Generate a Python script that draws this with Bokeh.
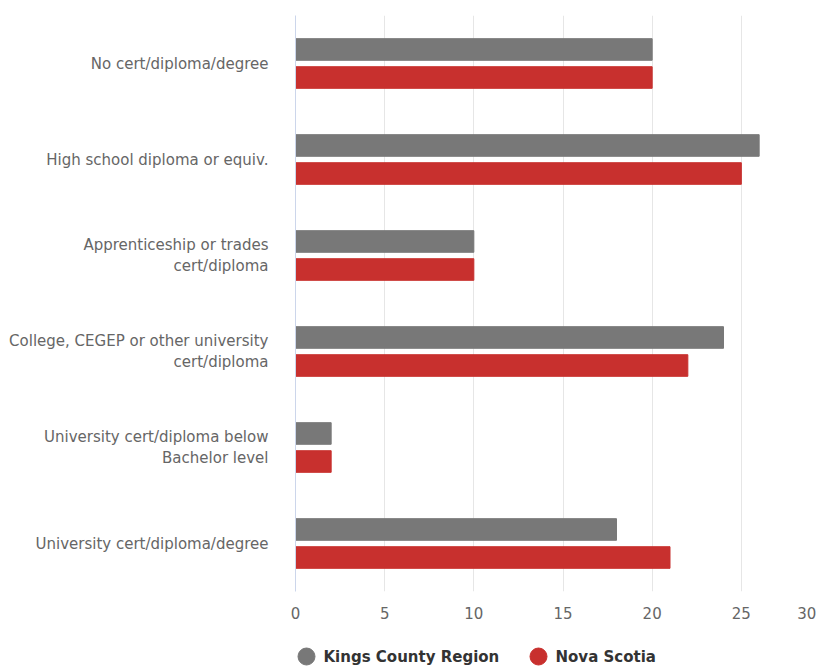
from bokeh.plotting import figure
from bokeh.models import FactorRange, ColumnDataSource
from bokeh.layouts import column
from bokeh.transform import dodge
from bokeh.core.properties import value
from bokeh.embed import file_html
from bokeh.resources import INLINE

categories = [
    "No cert/diploma/degree",
    "High school diploma or equiv.",
    "Apprenticeship or trades\ncert/diploma",
    "College, CEGEP or other university\ncert/diploma",
    "University cert/diploma below\nBachelor level",
    "University cert/diploma/degree",
]
kings = [20, 26, 10, 24, 2, 18]
nova = [20, 25, 10, 22, 2, 21]
series_names = ["Kings County Region", "Nova Scotia"]
ticks = [0, 5, 10, 15, 20, 25, 30]

GRAY = "#787878"
RED = "#c8302e"
series_colors = [GRAY, RED]

# legend layout (page pixels within the legend strip; must stay inside its frame)
legend_marker_x = [306, 538]
legend_label_x = [323, 555]
legend_row_y = 10

src = ColumnDataSource(dict(cat=categories, kings=kings, nova=nova))

p = figure(
    width=835, height=630,
    y_range=FactorRange(factors=list(reversed(categories)), range_padding=0),
    x_range=(0, 30),
    output_backend="svg", toolbar_location=None,
    min_border_left=295, min_border_right=5, min_border_top=15, min_border_bottom=39,
)
p.outline_line_color = None

p.hbar(y=dodge("cat", 0.146, range=p.y_range), right="kings", left=0, height=0.225,
       source=src, fill_color=GRAY, line_color=GRAY, line_width=1)
p.hbar(y=dodge("cat", -0.146, range=p.y_range), right="nova", left=0, height=0.225,
       source=src, fill_color=RED, line_color=RED, line_width=1)

# x axis
p.xaxis.ticker = ticks
p.xaxis.major_label_overrides = {30: "30\u00a0\u00a0\u00a0\u00a0"}
p.xaxis.axis_line_color = None
p.xaxis.major_tick_line_color = None
p.xaxis.minor_tick_line_color = None
p.xaxis.major_label_text_font = "DejaVu Sans"
p.xaxis.major_label_text_font_size = "15px"
p.xaxis.major_label_text_color = "#666666"
p.xaxis.major_label_standoff = 7

# y axis
p.yaxis.axis_line_color = "#ccd6eb"
p.yaxis.major_tick_line_color = None
p.yaxis.minor_tick_line_color = None
p.yaxis.major_label_text_font = "DejaVu Sans"
p.yaxis.major_label_text_font_size = "15px"
p.yaxis.major_label_text_color = "#666666"
p.yaxis.major_label_standoff = 21

p.xgrid.grid_line_color = "#e6e6e6"
p.ygrid.grid_line_color = None

# legend strip (its frame is aligned with the main frame by the column layout)
leg = figure(width=835, height=36, x_range=(295, 830), y_range=(0, 36),
             output_backend="svg", toolbar_location=None,
             min_border_left=295, min_border_right=5, min_border_top=0,
             min_border_bottom=0, outline_line_color=None)
leg.axis.visible = False
leg.grid.visible = False
lsrc = ColumnDataSource(dict(mx=legend_marker_x, tx=legend_label_x,
                             y=[legend_row_y] * len(series_names),
                             name=series_names, color=series_colors))
leg.scatter(x="mx", y="y", marker="circle", size=17, fill_color="color",
            line_color="color", source=lsrc)
leg.text(x="tx", y="y", text="name", source=lsrc, text_font=value("DejaVu Sans"),
         text_font_size="15px", text_font_style="bold", text_color="#333333",
         text_baseline="middle", text_align="left")

layout = column(p, leg, spacing=0)
open("out.html", "w").write(file_html(layout, INLINE))
